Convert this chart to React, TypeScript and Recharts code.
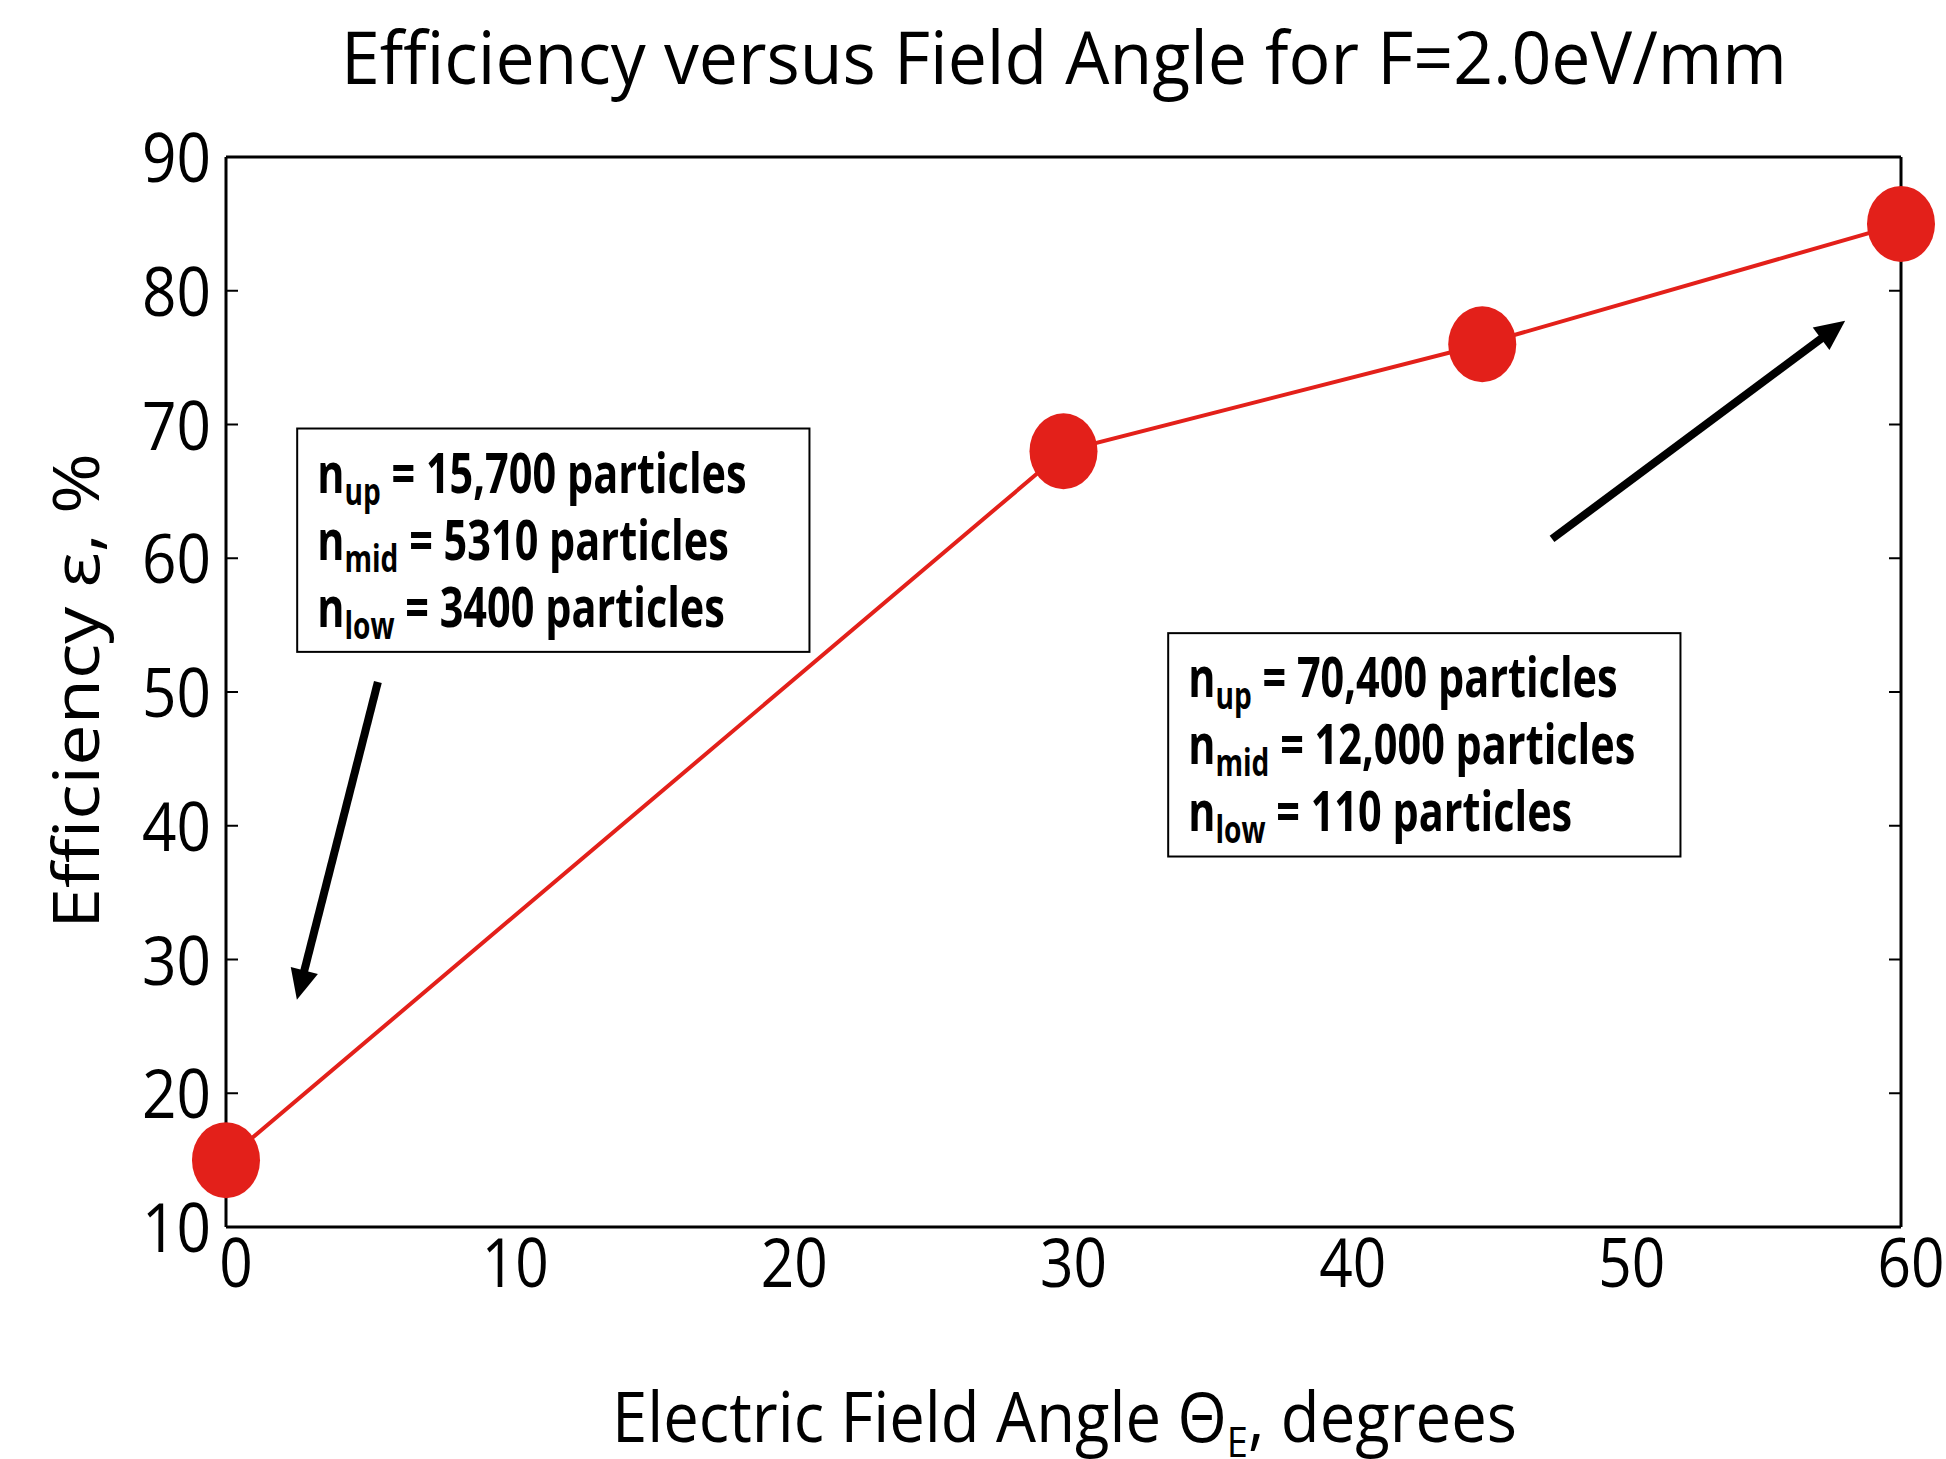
import { Line, LineChart, ReferenceArea, ReferenceLine, XAxis, YAxis } from "recharts";

// Efficiency vs field angle, F = 2.0 eV/mm
const ANGLES = [0, 30, 45, 60];
const EFFICIENCY = [15, 68, 76, 85];

const X_TICKS = [0, 10, 20, 30, 40, 50, 60];
const Y_TICKS = [10, 20, 30, 40, 50, 60, 70, 80, 90];

// particle counts shown in the two annotation boxes
const SUBSCRIPTS = ["up", "mid", "low"];
const COUNTS_LOW_ANGLE = ["15,700", "5310", "3400"];
const COUNTS_HIGH_ANGLE = ["70,400", "12,000", "110"];

// annotation anchors, in data units (angle, efficiency)
const BOX_LOW = { x: [2.55, 20.9], y: [53.0, 69.7] };
const BOX_HIGH = { x: [33.75, 52.1], y: [37.7, 54.4] };
const ARROW_LOW = [{ x: 5.44, y: 50.75 }, { x: 2.54, y: 27.0 }];
const ARROW_HIGH = [{ x: 47.5, y: 61.45 }, { x: 58.0, y: 77.75 }];

const data = ANGLES.map((a, i) => ({ angle: a, eff: EFFICIENCY[i] }));

const RED = "#e3201a";
const FONT = "'Open Sans', sans-serif";
const W = 1946;
const H = 1459;
const Y_AXIS_W = 80;
const X_AXIS_H = 60;

const empty = () => <g />;

function XTick({ x, y, payload }: any) {
  const s = String(payload.value);
  return (
    <text x={x + 10} y={y + 60} textAnchor="middle" fontFamily={FONT} fontSize={67} fill="#000" textLength={s.length * 33.5} lengthAdjust="spacingAndGlyphs">
      {s}
    </text>
  );
}

function YTick({ x, y, payload }: any) {
  const s = String(payload.value);
  return (
    <text x={x - 15} y={y + 25} textAnchor="end" fontFamily={FONT} fontSize={67} fill="#000" textLength={s.length * 34.5} lengthAdjust="spacingAndGlyphs">
      {s}
    </text>
  );
}

function Marker({ cx, cy }: any) {
  return <ellipse cx={cx} cy={cy} rx={34} ry={38} fill={RED} />;
}

function Arrow({ x1, y1, x2, y2 }: any) {
  const dx = x2 - x1;
  const dy = y2 - y1;
  const len = Math.hypot(dx, dy);
  const ux = dx / len;
  const uy = dy / len;
  const head = 30;
  const half = 14;
  const bx = x2 - ux * head;
  const by = y2 - uy * head;
  const pts = `${x2},${y2} ${bx - uy * half},${by + ux * half} ${bx + uy * half},${by - ux * half}`;
  return (
    <g>
      <line x1={x1} y1={y1} x2={bx + ux * 2} y2={by + uy * 2} stroke="#000" strokeWidth={8} />
      <polygon points={pts} fill="#000" />
    </g>
  );
}

function makeBox(counts: string[]) {
  return function Box({ x, y, width, height }: any) {
    return (
      <g>
        <rect x={x} y={y} width={width} height={height} fill="#fff" stroke="#000" strokeWidth={2} />
        <g transform={`translate(${x + 20},0) scale(0.74,1)`}>
          {counts.map((c, i) => (
            <text key={i} x={0} y={y + 64 + i * 67} fontFamily={FONT} fontWeight={700} fontSize={56} fill="#000">
              <tspan>n</tspan>
              <tspan fontSize={38} dy={12}>{SUBSCRIPTS[i]}</tspan>
              <tspan dy={-12}>{` = ${c} particles`}</tspan>
            </text>
          ))}
        </g>
      </g>
    );
  };
}

const BoxLow = makeBox(COUNTS_LOW_ANGLE);
const BoxHigh = makeBox(COUNTS_HIGH_ANGLE);

export default function App() {
  return (
    <div style={{ position: "absolute", left: 0, top: 0, width: W, height: H, background: "#fff" }}>
      <LineChart
        width={W}
        height={H}
        data={data}
        margin={{ top: 157, right: 45, bottom: 232 - X_AXIS_H, left: 226 - Y_AXIS_W }}
      >
        <ReferenceArea xAxisId="x" yAxisId="y" x1={BOX_LOW.x[0]} x2={BOX_LOW.x[1]} y1={BOX_LOW.y[0]} y2={BOX_LOW.y[1]} shape={<BoxLow />} />
        <ReferenceArea xAxisId="x" yAxisId="y" x1={BOX_HIGH.x[0]} x2={BOX_HIGH.x[1]} y1={BOX_HIGH.y[0]} y2={BOX_HIGH.y[1]} shape={<BoxHigh />} />
        <ReferenceLine xAxisId="x" yAxisId="y" segment={ARROW_LOW} shape={(p: any) => <Arrow {...p} />} />
        <ReferenceLine xAxisId="x" yAxisId="y" segment={ARROW_HIGH} shape={(p: any) => <Arrow {...p} />} />
        <Line
          xAxisId="x"
          yAxisId="y"
          dataKey="eff"
          stroke={RED}
          strokeWidth={4}
          dot={<Marker />}
          activeDot={false}
          isAnimationActive={false}
        />
        <XAxis
          xAxisId="x"
          dataKey="angle"
          type="number"
          domain={[0, 60]}
          ticks={X_TICKS}
          height={X_AXIS_H}
          tickLine={false}
          tickSize={0}
          tickMargin={0}
          axisLine={{ stroke: "#000", strokeWidth: 3 }}
          tick={<XTick />}
        />
        <XAxis xAxisId="xm" type="number" domain={[0, 60]} ticks={X_TICKS} allowDataOverflow mirror axisLine={false} tickSize={12} tickLine={{ stroke: "#000", strokeWidth: 2 }} tick={empty} />
        <XAxis xAxisId="xt" orientation="top" type="number" domain={[0, 60]} ticks={X_TICKS} allowDataOverflow mirror axisLine={{ stroke: "#000", strokeWidth: 3 }} tickSize={12} tickLine={{ stroke: "#000", strokeWidth: 2 }} tick={empty} />
        <YAxis
          yAxisId="y"
          type="number"
          domain={[10, 90]}
          ticks={Y_TICKS}
          width={Y_AXIS_W}
          tickLine={false}
          tickSize={0}
          tickMargin={0}
          axisLine={{ stroke: "#000", strokeWidth: 3 }}
          tick={<YTick />}
        />
        <YAxis yAxisId="ym" type="number" domain={[10, 90]} ticks={Y_TICKS} allowDataOverflow mirror axisLine={false} tickSize={12} tickLine={{ stroke: "#000", strokeWidth: 2 }} tick={empty} />
        <YAxis yAxisId="yr" orientation="right" type="number" domain={[10, 90]} ticks={Y_TICKS} allowDataOverflow mirror axisLine={{ stroke: "#000", strokeWidth: 3 }} tickSize={12} tickLine={{ stroke: "#000", strokeWidth: 2 }} tick={empty} />
      </LineChart>
      <svg width={W} height={H} style={{ position: "absolute", left: 0, top: 0, pointerEvents: "none" }}>
        <text x={1064} y={84} textAnchor="middle" fontFamily={FONT} fontSize={74} fill="#000" textLength={1446} lengthAdjust="spacingAndGlyphs">
          Efficiency versus Field Angle for F=2.0eV/mm
        </text>
        <text x={612} y={1442} fontFamily={FONT} fontSize={70} fill="#000" textLength={905} lengthAdjust="spacingAndGlyphs">
          <tspan>Electric Field Angle Θ</tspan>
          <tspan fontSize={42} dy={15}>E</tspan>
          <tspan dy={-15}>, degrees</tspan>
        </text>
        <text x={99} y={691} transform="rotate(-90, 99, 691)" textAnchor="middle" fontFamily={FONT} fontSize={64} fill="#000" textLength={476} lengthAdjust="spacingAndGlyphs">
          Efficiency ε, %
        </text>
      </svg>
    </div>
  );
}
